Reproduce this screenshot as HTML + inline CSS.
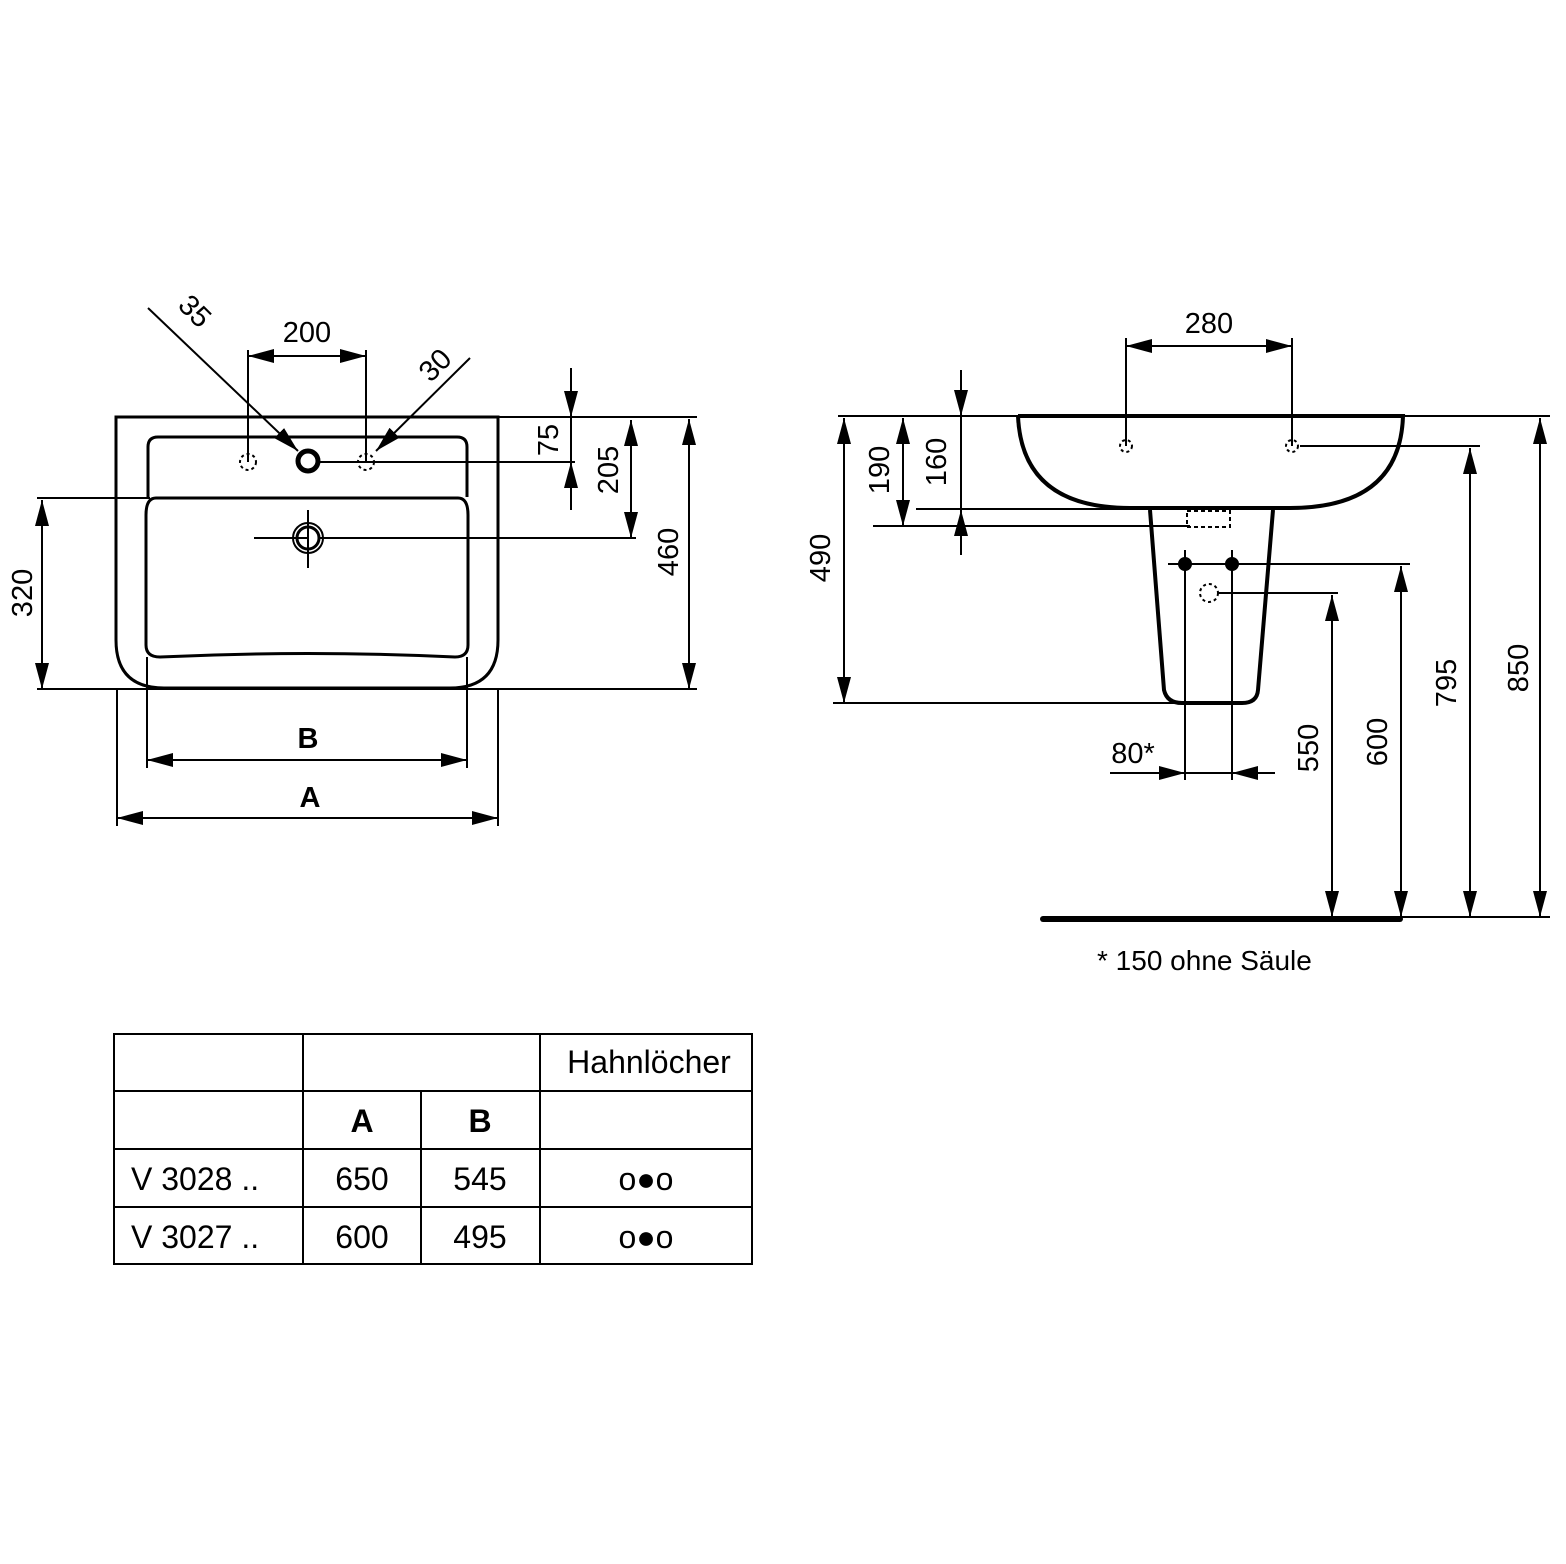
<!DOCTYPE html>
<html><head><meta charset="utf-8"><style>
html,body{margin:0;padding:0;background:#fff}
svg{display:block}
text{font-family:"Liberation Sans",Arial,sans-serif;fill:#000}
</style></head><body>
<svg width="1566" height="1564" viewBox="0 0 1566 1564" xmlns="http://www.w3.org/2000/svg">
<defs>
<marker id="a" viewBox="0 0 26 14" refX="26" refY="7" markerWidth="26" markerHeight="14" markerUnits="userSpaceOnUse" orient="auto-start-reverse"><path d="M0,0L26,7L0,14z" fill="#000"/></marker>
</defs>
<g stroke="#000" fill="none" stroke-width="2">
<path d="M116,417 H498 V640 Q498,688 450,688 H164 Q116,688 116,640 Z" stroke-width="3"/>
<path d="M148,497 V447 Q148,437 158,437 H457 Q467,437 467,447 V497" stroke-width="3"/>
<path d="M156,498 H458 Q468,498 468,515 V645 Q468,657 455,657 Q308,650 160,657 Q146,657 146,645 V515 Q146,498 156,498 Z" stroke-width="3"/>
<circle cx="248" cy="462" r="8" stroke-dasharray="3,3"/>
<circle cx="366" cy="462" r="8" stroke-dasharray="3,3"/>
<circle cx="308" cy="461" r="10" stroke-width="5"/>
<circle cx="308" cy="538" r="15"/>
<circle cx="308" cy="538" r="11" stroke-width="3"/>
<line x1="254" y1="538" x2="308" y2="538"/>
<line x1="308" y1="510" x2="308" y2="568"/>
<line x1="248" y1="350" x2="248" y2="462"/>
<line x1="366" y1="350" x2="366" y2="462"/>
<line x1="248" y1="356" x2="366" y2="356" marker-start="url(#a)" marker-end="url(#a)"/>
<line x1="148" y1="308" x2="298" y2="451" marker-end="url(#a)"/>
<line x1="470" y1="358" x2="376" y2="451" marker-end="url(#a)"/>
<line x1="318" y1="462" x2="575" y2="462"/>
<line x1="498" y1="417" x2="697" y2="417"/>
<line x1="571" y1="368" x2="571" y2="510"/>
<line x1="571" y1="370" x2="571" y2="417" marker-end="url(#a)"/>
<line x1="571" y1="508" x2="571" y2="462" marker-end="url(#a)"/>
<line x1="320" y1="538" x2="636" y2="538"/>
<line x1="631" y1="420" x2="631" y2="538" marker-start="url(#a)" marker-end="url(#a)"/>
<line x1="37" y1="689" x2="697" y2="689"/>
<line x1="689" y1="419" x2="689" y2="689" marker-start="url(#a)" marker-end="url(#a)"/>
<line x1="37" y1="498" x2="150" y2="498"/>
<line x1="42" y1="500" x2="42" y2="689" marker-start="url(#a)" marker-end="url(#a)"/>
<line x1="147" y1="657" x2="147" y2="768"/>
<line x1="467" y1="657" x2="467" y2="768"/>
<line x1="147" y1="760" x2="467" y2="760" marker-start="url(#a)" marker-end="url(#a)"/>
<line x1="117" y1="689" x2="117" y2="826"/>
<line x1="498" y1="689" x2="498" y2="826"/>
<line x1="117" y1="818" x2="498" y2="818" marker-start="url(#a)" marker-end="url(#a)"/>

<line x1="838" y1="416" x2="1550" y2="416"/>
<path d="M1018,416 H1403 Q1400,508 1290,508 H1130 Q1022,508 1018,416" stroke-width="4"/>
<path d="M1150,510 L1164,690 Q1167,703 1182,703 H1242 Q1257,703 1258,690 L1273,510" stroke-width="4"/>
<rect x="1187" y="511" width="43" height="16" stroke-dasharray="4,3"/>
<line x1="1126" y1="338" x2="1126" y2="446"/>
<line x1="1292" y1="338" x2="1292" y2="446"/>
<line x1="1126" y1="346" x2="1292" y2="346" marker-start="url(#a)" marker-end="url(#a)"/>
<circle cx="1126" cy="446" r="6" stroke-dasharray="3,3"/>
<circle cx="1292" cy="446" r="6" stroke-dasharray="3,3"/>
<line x1="1300" y1="446" x2="1480" y2="446"/>
<line x1="961" y1="370" x2="961" y2="555"/>
<line x1="961" y1="370" x2="961" y2="416" marker-end="url(#a)"/>
<line x1="961" y1="555" x2="961" y2="510" marker-end="url(#a)"/>
<line x1="916" y1="509" x2="1135" y2="509"/>
<line x1="903" y1="418" x2="903" y2="526" marker-start="url(#a)" marker-end="url(#a)"/>
<line x1="873" y1="526" x2="1190" y2="526"/>
<line x1="844" y1="418" x2="844" y2="703" marker-start="url(#a)" marker-end="url(#a)"/>
<line x1="833" y1="703" x2="1180" y2="703"/>
<line x1="1168" y1="564" x2="1410" y2="564"/>
<line x1="1185" y1="550" x2="1185" y2="780"/>
<line x1="1232" y1="550" x2="1232" y2="780"/>
<circle cx="1209" cy="593" r="9" stroke-dasharray="3,3"/>
<line x1="1218" y1="593" x2="1338" y2="593"/>
<line x1="1110" y1="773" x2="1185" y2="773" marker-end="url(#a)"/>
<line x1="1185" y1="773" x2="1232" y2="773"/>
<line x1="1275" y1="773" x2="1232" y2="773" marker-end="url(#a)"/>
<line x1="1332" y1="595" x2="1332" y2="917" marker-start="url(#a)" marker-end="url(#a)"/>
<line x1="1401" y1="566" x2="1401" y2="917" marker-start="url(#a)" marker-end="url(#a)"/>
<line x1="1470" y1="448" x2="1470" y2="917" marker-start="url(#a)" marker-end="url(#a)"/>
<line x1="1540" y1="418" x2="1540" y2="917" marker-start="url(#a)" marker-end="url(#a)"/>
<line x1="1043" y1="919" x2="1400" y2="919" stroke-width="6" stroke-linecap="round"/>
<line x1="1400" y1="917" x2="1550" y2="917"/>
<circle cx="1185" cy="564" r="6" fill="#000"/>
<circle cx="1232" cy="564" r="6" fill="#000"/>

<g stroke-width="2">
<rect x="114" y="1034" width="638" height="230"/>
<line x1="114" y1="1091" x2="752" y2="1091"/>
<line x1="114" y1="1149" x2="752" y2="1149"/>
<line x1="114" y1="1207" x2="752" y2="1207"/>
<line x1="303" y1="1034" x2="303" y2="1264"/>
<line x1="540" y1="1034" x2="540" y2="1264"/>
<line x1="421" y1="1091" x2="421" y2="1264"/>
</g>
</g>

<g font-size="29">
<text x="307" y="342" text-anchor="middle">200</text>
<text transform="translate(188,318) rotate(45)" text-anchor="middle">35</text>
<text transform="translate(442,372) rotate(-45)" text-anchor="middle">30</text>
<text transform="translate(558,440) rotate(-90)" text-anchor="middle">75</text>
<text transform="translate(618,470) rotate(-90)" text-anchor="middle">205</text>
<text transform="translate(678,552) rotate(-90)" text-anchor="middle">460</text>
<text transform="translate(32,593) rotate(-90)" text-anchor="middle">320</text>
<text x="308" y="748" text-anchor="middle" font-weight="bold">B</text>
<text x="310" y="807" text-anchor="middle" font-weight="bold">A</text>
<text x="1209" y="333" text-anchor="middle">280</text>
<text transform="translate(946,462) rotate(-90)" text-anchor="middle">160</text>
<text transform="translate(889,470) rotate(-90)" text-anchor="middle">190</text>
<text transform="translate(830,558) rotate(-90)" text-anchor="middle">490</text>
<text x="1133" y="763" text-anchor="middle">80*</text>
<text transform="translate(1318,748) rotate(-90)" text-anchor="middle">550</text>
<text transform="translate(1387,742) rotate(-90)" text-anchor="middle">600</text>
<text transform="translate(1456,683) rotate(-90)" text-anchor="middle">795</text>
<text transform="translate(1528,668) rotate(-90)" text-anchor="middle">850</text>
<text x="1097" y="970" font-size="28">* 150 ohne Säule</text>
</g>
<g font-size="32">
<text x="649" y="1073" text-anchor="middle">Hahnlöcher</text>
<text x="362" y="1132" text-anchor="middle" font-weight="bold">A</text>
<text x="480" y="1132" text-anchor="middle" font-weight="bold">B</text>
<text x="131" y="1190">V 3028 ..</text>
<text x="362" y="1190" text-anchor="middle">650</text>
<text x="480" y="1190" text-anchor="middle">545</text>
<text x="131" y="1248">V 3027 ..</text>
<text x="362" y="1248" text-anchor="middle">600</text>
<text x="480" y="1248" text-anchor="middle">495</text>
<text x="646" y="1190" text-anchor="middle">o●o</text>
<text x="646" y="1248" text-anchor="middle">o●o</text>
</g>
</svg>
</body></html>
